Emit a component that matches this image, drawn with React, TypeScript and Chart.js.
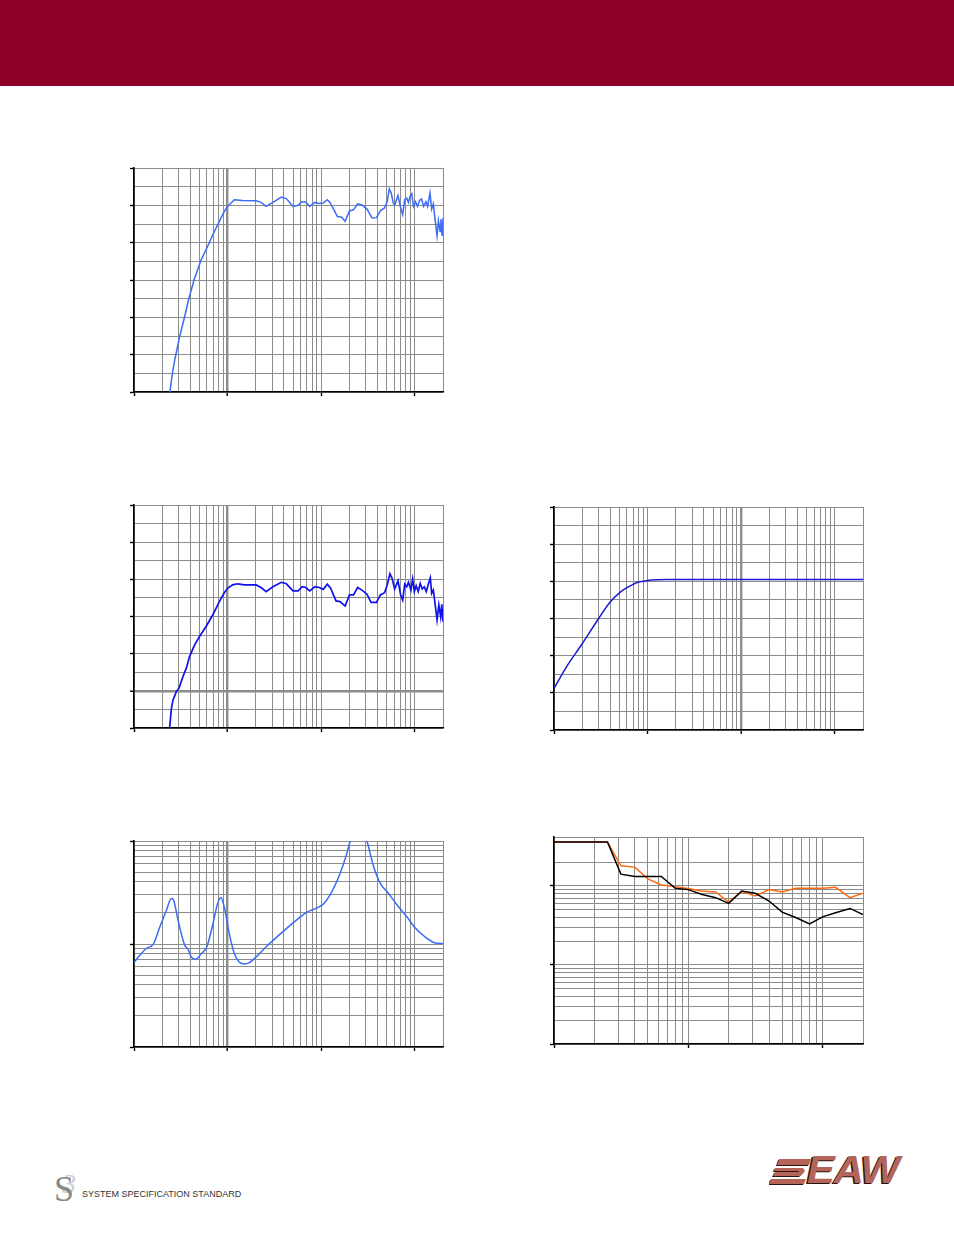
import React, { useEffect, useRef } from "react";
import { Chart, registerables } from "chart.js";
Chart.register(...registerables);

// ---------- data ----------
// Chart 1: on-axis response (Hz / dB)
const C1_FREQ = [23.6, 25.7, 27.2, 30.7, 34.7, 38.6, 44.3, 52.2, 61.4, 72.2, 81.6, 92.2, 100, 118, 145, 202, 228, 258, 305, 375, 424, 500, 566, 615, 684, 755, 855, 952, 1051, 1161, 1240, 1370, 1488, 1657, 1800, 2005, 2215, 2446, 2725, 3085, 3493, 3890, 4296, 4746, 5070, 5330, 5600, 5886, 6085, 6608, 7062, 7423, 7800, 8197, 8547, 8906, 9282, 9674, 10166, 10685, 11230, 11800, 12405, 13145, 13700, 14520, 15130, 15770, 16440, 17280, 17860, 18620, 19000, 19600, 20000];
const C1_DB = [68, 74.9, 78.5, 84.8, 90.1, 95.1, 100.4, 105.4, 109.1, 113.0, 115.7, 118.4, 119.7, 121.5, 121.3, 121.2, 120.8, 119.7, 120.8, 122.2, 121.8, 119.7, 120.0, 120.9, 120.9, 119.7, 120.8, 120.5, 120.6, 121.5, 120.8, 118.8, 117.0, 116.8, 115.7, 118.5, 118.8, 120.4, 120.1, 119.0, 116.6, 116.7, 118.6, 119.3, 121.0, 124.4, 123.3, 120.6, 120.0, 122.6, 119.3, 117.5, 121.5, 121.9, 120.8, 122.4, 123.1, 119.7, 121.0, 119.7, 121.3, 121.7, 119.7, 121.0, 119.7, 123.3, 119.0, 120.4, 116.3, 111.8, 115.9, 113.0, 116.3, 111.8, 116.6];

// Chart 2: second response (Hz / dB)
const C2_FREQ = [23.8, 25.1, 26.1, 28.3, 30.2, 33.3, 36.2, 39.2, 44.3, 50.1, 58.9, 69.3, 81.6, 92.2, 100, 113, 128, 151, 202, 228, 258, 305, 375, 424, 500, 566, 626, 684, 755, 855, 952, 1051, 1161, 1260, 1440, 1590, 1800, 2005, 2215, 2446, 2725, 3085, 3407, 3890, 4296, 4746, 5070, 5418, 5692, 6085, 6608, 7062, 7423, 7800, 8197, 8547, 9090, 9480, 9880, 10337, 10864, 11420, 12000, 12610, 13250, 13930, 14640, 15130, 15770, 16440, 17280, 18050, 18880, 19410, 20000];
const C2_DB = [69, 75.3, 77.5, 79.8, 80.7, 83.8, 86.1, 89.2, 92.3, 94.6, 97.3, 100.4, 104.0, 106.4, 107.6, 108.5, 108.8, 108.5, 108.5, 107.8, 106.7, 108.0, 109.2, 108.8, 106.9, 106.9, 108.0, 107.8, 106.9, 108.0, 107.8, 107.3, 108.7, 107.6, 104.2, 104.0, 102.8, 105.8, 105.8, 107.8, 107.1, 106.0, 103.8, 103.8, 105.8, 106.4, 108.5, 111.5, 110.4, 107.4, 109.6, 105.8, 104.4, 108.7, 108.0, 109.2, 107.1, 110.1, 106.7, 108.3, 106.7, 108.9, 107.4, 108.0, 106.7, 108.7, 110.4, 106.2, 107.1, 103.5, 99.1, 103.1, 99.9, 103.3, 98.6];

// Chart 3: filter / processor response (Hz / dB)
const C3_FREQ = [10, 13.6, 20, 30, 40, 50, 60, 70, 80, 90, 100, 125, 160, 20000];
const C3_DB = [81.2, 87.0, 93.2, 100.0, 104.5, 106.9, 108.3, 109.2, 109.8, 110.0, 110.2, 110.4, 110.5, 110.5];

// Chart 4: impedance (Hz / ohm)
const C4_FREQ = [10, 11.6, 13.6, 16.0, 18.9, 22.2, 25.1, 26.5, 29.5, 34.7, 37.7, 40.8, 45.4, 52, 60, 69.3, 78.3, 85, 92, 104, 118, 133, 151, 171, 202, 258, 390, 590, 695, 820, 1051, 1240, 1590, 1875, 2037, 2506, 3083, 3640, 4295, 5070, 6500, 8340, 9840, 12610, 16180, 20000];
const C4_OHM = [6.6, 7.8, 9.1, 9.9, 14.7, 21.3, 27.7, 26.7, 17.1, 9.8, 8.9, 7.5, 7.1, 8.0, 9.4, 15.3, 24.8, 28.3, 23.0, 12.7, 8.1, 6.7, 6.4, 6.6, 7.5, 9.4, 13.2, 18.1, 20.3, 21.6, 24.4, 29.8, 48.3, 75.4, 100, 180, 100, 56, 38.6, 32.1, 23.8, 18.1, 14.7, 11.9, 10.3, 10.1];

// Chart 5: beamwidth (1/3 octave, degrees)
const C5_FREQ = [100, 125, 160, 200, 250, 315, 400, 500, 630, 800, 1000, 1250, 1600, 2000, 2500, 3150, 4000, 5000, 6300, 8000, 10000, 12500, 16000, 20000];
const C5_BLACK = [360, 360, 360, 360, 360, 141, 131.6, 131.6, 131.6, 93.4, 89.8, 78.3, 71.0, 60.1, 86.4, 80.6, 64.4, 46.6, 39.8, 33.0, 40.6, 45.7, 51.9, 43.5];
const C5_ORANGE = [360, 360, 360, 360, 360, 180, 173, 123, 103, 98, 92.5, 86.3, 83.8, 62.5, 84.7, 74.5, 89.8, 83.8, 93.4, 93.4, 93.4, 96.1, 71, 80.6];

// tick / grid values
const X_TICKS_FULL = [10, 20, 30, 40, 50, 60, 70, 80, 90, 100, 200, 300, 400, 500, 600, 700, 800, 900, 1000, 2000, 3000, 4000, 5000, 6000, 7000, 8000, 9000, 10000, 20000];
const X_TICKS_HF = [100, 200, 300, 400, 500, 600, 700, 800, 900, 1000, 2000, 3000, 4000, 5000, 6000, 7000, 8000, 9000, 10000, 20000];
const Y_TICKS_DB = [70, 75, 80, 85, 90, 95, 100, 105, 110, 115, 120, 125, 130];
const Y_TICKS_OHM = [1, 2, 3, 4, 5, 6, 7, 8, 9, 10, 20, 30, 40, 50, 60, 70, 80, 90, 100];
const Y_TICKS_BW = [1, 2, 3, 4, 5, 6, 7, 8, 9, 10, 20, 30, 40, 50, 60, 70, 80, 90, 100, 200, 416];

// ---------- layout ----------
const GRID = "#8c8c8c";
const PAD_L = 16, PAD_T = 10, PAD_R = 10, PAD_B = 6, TICK = 4;

const isDecade = (v: number) => Math.abs(Math.log10(v) - Math.round(Math.log10(v))) < 1e-9;
const isTen = (v: number) => v % 10 === 0;

type Series = { x: number[]; y: number[]; color: string; width: number; mono?: boolean };
type Spec = {
  left: number; top: number; width: number; height: number;
  xMin: number; xMax: number; xTicks: number[];
  yLog: boolean; yMin: number; yMax: number; yTicks: number[]; yMajor: (v: number) => boolean;
  thickX?: number; thickY?: number;
  series: Series[];
};

function PlotChart(p: Spec) {
  const ref = useRef<HTMLCanvasElement>(null);
  const cw = p.width + PAD_L + TICK + PAD_R;
  const ch = p.height + PAD_T + PAD_B + TICK;
  useEffect(() => {
    const cv = ref.current!;
    const chart = new Chart(cv, {
      type: "line",
      data: {
        datasets: p.series.map((s) => ({
          data: s.x.map((x, i) => ({ x, y: s.y[i] })),
          borderColor: s.color,
          borderWidth: s.width,
          pointRadius: 0,
          fill: false,
          tension: s.mono ? 0.4 : 0,
          cubicInterpolationMode: s.mono ? "monotone" : "default",
        })),
      },
      options: {
        responsive: false,
        animation: false,
        events: [],
        layout: { padding: { left: PAD_L, top: PAD_T, right: PAD_R, bottom: PAD_B } },
        plugins: { legend: { display: false }, tooltip: { enabled: false } },
        scales: {
          x: {
            type: "logarithmic",
            min: p.xMin,
            max: p.xMax,
            afterBuildTicks: (s: any) => { s.ticks = p.xTicks.map((v) => ({ value: v })); },
            ticks: { display: false, autoSkip: false },
            grid: {
              color: GRID,
              lineWidth: (c: any) => (c.tick && c.tick.value === p.thickX ? 2.4 : 1),
              drawTicks: true,
              tickLength: TICK,
              tickWidth: 1.4,
              tickColor: (c: any) => (c.tick && isDecade(c.tick.value) ? "#000" : "rgba(0,0,0,0)"),
            },
            border: { display: true, color: "#000", width: 1.6 },
          },
          y: {
            type: p.yLog ? "logarithmic" : "linear",
            min: p.yMin,
            max: p.yMax,
            afterBuildTicks: (s: any) => { s.ticks = p.yTicks.map((v) => ({ value: v })); },
            ticks: { display: false, autoSkip: false },
            grid: {
              color: GRID,
              lineWidth: (c: any) => (c.tick && c.tick.value === p.thickY ? 2.4 : 1),
              drawTicks: true,
              tickLength: TICK,
              tickWidth: 1.4,
              tickColor: (c: any) => (c.tick && p.yMajor(c.tick.value) ? "#000" : "rgba(0,0,0,0)"),
            },
            border: { display: true, color: "#000", width: 1.6 },
          },
        },
      } as any,
    });
    return () => chart.destroy();
  }, []);
  return (
    <canvas
      ref={ref}
      width={cw}
      height={ch}
      style={{ position: "absolute", left: p.left - PAD_L - TICK, top: p.top - PAD_T, width: cw, height: ch }}
    />
  );
}

export default function App() {
  return (
    <div style={{ position: "absolute", left: 0, top: 0, width: 954, height: 1235, background: "#fff", overflow: "hidden" }}>
      <div style={{ position: "absolute", left: 0, top: 0, width: 954, height: 86, background: "#8f0029" }} />

      <PlotChart
        left={134} top={168} width={309} height={224}
        xMin={10} xMax={20000} xTicks={X_TICKS_FULL}
        yLog={false} yMin={70} yMax={130} yTicks={Y_TICKS_DB} yMajor={isTen}
        thickX={100}
        series={[{ x: C1_FREQ, y: C1_DB, color: "#3b6cf6", width: 1.5 }]}
      />
      <PlotChart
        left={134} top={505} width={309} height={223}
        xMin={10} xMax={20000} xTicks={X_TICKS_FULL}
        yLog={false} yMin={70} yMax={130} yTicks={Y_TICKS_DB} yMajor={isTen}
        thickX={100} thickY={80}
        series={[{ x: C2_FREQ, y: C2_DB, color: "#1010ee", width: 1.7 }]}
      />
      <PlotChart
        left={554} top={507} width={309} height={223}
        xMin={10} xMax={20000} xTicks={X_TICKS_FULL}
        yLog={false} yMin={70} yMax={130} yTicks={Y_TICKS_DB} yMajor={isTen}
        thickX={1000}
        series={[{ x: C3_FREQ, y: C3_DB, color: "#1a1ad0", width: 1.5, mono: true }]}
      />
      <PlotChart
        left={134} top={841} width={309} height={206}
        xMin={10} xMax={20000} xTicks={X_TICKS_FULL}
        yLog={true} yMin={1} yMax={100} yTicks={Y_TICKS_OHM} yMajor={isDecade}
        thickX={100}
        series={[{ x: C4_FREQ, y: C4_OHM, color: "#3b6cf6", width: 1.5, mono: true }]}
      />
      <PlotChart
        left={554} top={837} width={309} height={207}
        xMin={100} xMax={20000} xTicks={X_TICKS_HF}
        yLog={true} yMin={1} yMax={416} yTicks={Y_TICKS_BW} yMajor={isDecade}
        series={[
          { x: C5_FREQ, y: C5_BLACK, color: "#000000", width: 1.5 },
          { x: C5_FREQ, y: C5_ORANGE, color: "#ff6a10", width: 1.5 },
        ]}
      />

      {/* footer: S3 logo */}
      <div style={{ position: "absolute", left: 62, top: 1170, fontFamily: "'Liberation Serif', serif", fontSize: 28, color: "#cfcfcf", lineHeight: "28px", fontStyle: "italic" }}>3</div>
      <div style={{ position: "absolute", left: 54, top: 1171, fontFamily: "'Liberation Serif', serif", fontSize: 36, color: "#8a8a8a", lineHeight: "36px" }}>S</div>
      <div style={{ position: "absolute", left: 82, top: 1189, fontFamily: "'Liberation Sans', Arial, sans-serif", fontSize: 9, color: "#333", lineHeight: "10px", whiteSpace: "nowrap" }}>
        SYSTEM SPECIFICATION STANDARD
      </div>

      {/* footer: EAW logo */}
      <svg style={{ position: "absolute", left: 769, top: 1158 }} width={42} height={28} viewBox="0 0 42 28">
        <polygon points="9,2 41,2 39,8 7,8" fill="#2a1410" />
        <polygon points="10,1 42,1 40,7 8,7" fill="#b5645a" />
        <polygon points="5,11 33,11 35,14 30,19 3,19 5,15 28,15 29,14 4,14" fill="#2a1410" />
        <polygon points="6,10 34,10 36,13 31,18 4,18 6,14 29,14 30,13 5,13" fill="#b5645a" />
        <polygon points="1,22 36,22 34,27 -1,27" fill="#2a1410" />
        <polygon points="2,21 37,21 35,26 0,26" fill="#b5645a" />
      </svg>
      <div style={{ position: "absolute", left: 807, top: 1148, fontFamily: "'Liberation Sans', Arial, sans-serif", fontWeight: "bold", fontStyle: "italic", fontSize: 38, lineHeight: "44px", color: "#b5645a", textShadow: "-1.5px 1px 0 #2a1410", transform: "scaleX(1.1)", transformOrigin: "left top", letterSpacing: -1 }}>
        EAW
      </div>
    </div>
  );
}
